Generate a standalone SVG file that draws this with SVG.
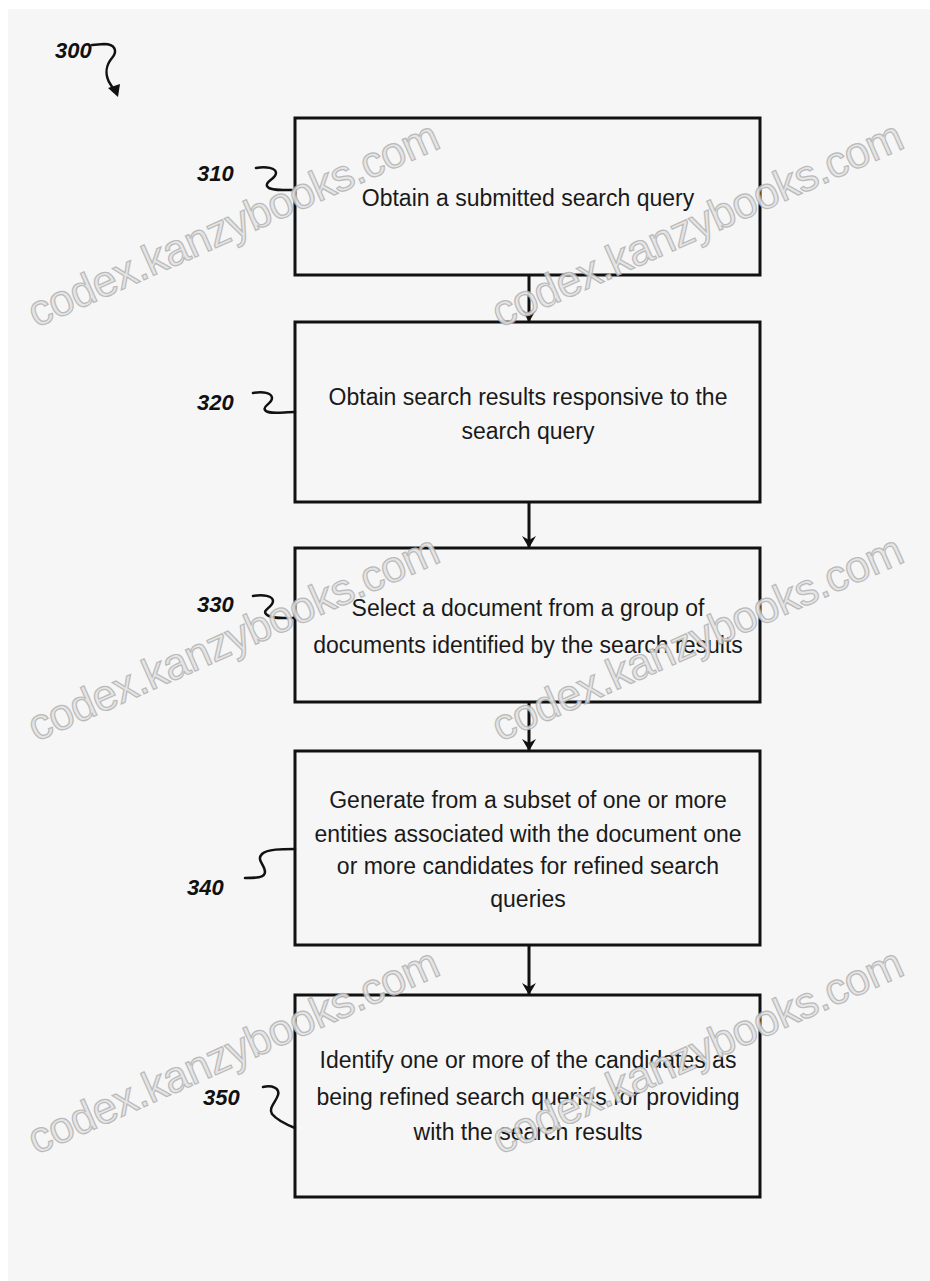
<svg xmlns="http://www.w3.org/2000/svg" width="930" height="1281" viewBox="0 0 930 1281">
<defs>
<style>
.box{fill:none;stroke:#111;stroke-width:3}
.t{font-family:"Liberation Sans",Arial,sans-serif;font-size:23px;fill:#1a1a1a;text-anchor:middle}
.lbl{font-family:"Liberation Sans",Arial,sans-serif;font-size:22px;font-weight:bold;font-style:italic;fill:#111}
.sq{fill:none;stroke:#111;stroke-width:2.5;stroke-linecap:round}
.con{stroke:#111;stroke-width:3;fill:none}
.wm{font-family:"Liberation Sans",Arial,sans-serif;font-size:44px;fill:#e4e4e4;stroke:#b4b4b4;stroke-width:1.2;opacity:0.9}
</style>
<marker id="ah" viewBox="0 0 12 14" refX="11" refY="7" markerWidth="12" markerHeight="14" markerUnits="userSpaceOnUse" orient="auto">
<path d="M0,0 L12,7 L0,14 L4,7 Z" fill="#111"/>
</marker>
</defs>
<rect x="0" y="0" width="930" height="1281" fill="#ffffff"/>
<rect x="8" y="9" width="922" height="1272" fill="#f6f6f6"/>

<g id="label-300">
<text class="lbl" x="55" y="58">300</text>
<path class="sq" d="M92,45 L104,44 C115,44 118,51 112,58 C106,65 105,74 109,82 L114,90"/>
<path d="M108,88 L120,84 L118,97 Z" fill="#111"/>
</g>

<g id="node-310">
<rect class="box" x="295" y="118" width="465" height="157"/>
<text class="t" x="528" y="206">Obtain a submitted search query</text>
<text class="lbl" x="197" y="181">310</text>
<path class="sq" d="M256,168 C266,166 276,168 276,173 C276,179 265,181 267,186 C269,191 284,190 295,190"/>
</g>

<g id="node-320">
<rect class="box" x="295" y="322" width="465" height="180"/>
<text class="t" x="528" y="405">Obtain search results responsive to the</text>
<text class="t" x="528" y="439">search query</text>
<text class="lbl" x="197" y="410">320</text>
<path class="sq" d="M253,393 C263,391 272,393 272,398 C272,404 262,406 265,410 C268,415 283,412 295,412"/>
</g>

<g id="node-330">
<rect class="box" x="295" y="548" width="465" height="154"/>
<text class="t" x="528" y="616">Select a document from a group of</text>
<text class="t" x="528" y="653">documents identified by the search results</text>
<text class="lbl" x="197" y="612">330</text>
<path class="sq" d="M253,596 C263,594 273,596 273,601 C273,607 262,610 266,614 C270,619 284,618 295,618"/>
</g>

<g id="node-340">
<rect class="box" x="295" y="751" width="465" height="194"/>
<text class="t" x="528" y="808">Generate from a subset of one or more</text>
<text class="t" x="528" y="842">entities associated with the document one</text>
<text class="t" x="528" y="874">or more candidates for refined search</text>
<text class="t" x="528" y="907">queries</text>
<text class="lbl" x="187" y="895">340</text>
<path class="sq" d="M245,878 C255,878 265,878 265,872 C265,865 256,860 262,854 C267,849 282,849 295,849"/>
</g>

<g id="node-350">
<rect class="box" x="295" y="995" width="465" height="202"/>
<text class="t" x="528" y="1068">Identify one or more of the candidates as</text>
<text class="t" x="528" y="1105">being refined search queries for providing</text>
<text class="t" x="528" y="1140">with the search results</text>
<text class="lbl" x="203" y="1105">350</text>
<path class="sq" d="M263,1087 C272,1085 280,1088 278,1095 C276,1102 268,1108 272,1114 C277,1120 285,1124 295,1128"/>
</g>

<g id="connectors">
<line class="con" x1="529" y1="275" x2="529" y2="321" marker-end="url(#ah)"/>
<line class="con" x1="529" y1="502" x2="529" y2="547" marker-end="url(#ah)"/>
<line class="con" x1="529" y1="702" x2="529" y2="750" marker-end="url(#ah)"/>
<line class="con" x1="529" y1="945" x2="529" y2="994" marker-end="url(#ah)"/>
</g>

<g id="watermarks">
<text class="wm" x="36" y="328" textLength="445" transform="rotate(-24 36 328)">codex.kanzybooks.com</text>
<text class="wm" x="500" y="328" textLength="445" transform="rotate(-24 500 328)">codex.kanzybooks.com</text>
<text class="wm" x="36" y="742" textLength="445" transform="rotate(-24 36 742)">codex.kanzybooks.com</text>
<text class="wm" x="500" y="742" textLength="445" transform="rotate(-24 500 742)">codex.kanzybooks.com</text>
<text class="wm" x="36" y="1155" textLength="445" transform="rotate(-24 36 1155)">codex.kanzybooks.com</text>
<text class="wm" x="500" y="1155" textLength="445" transform="rotate(-24 500 1155)">codex.kanzybooks.com</text>
</g>
</svg>
